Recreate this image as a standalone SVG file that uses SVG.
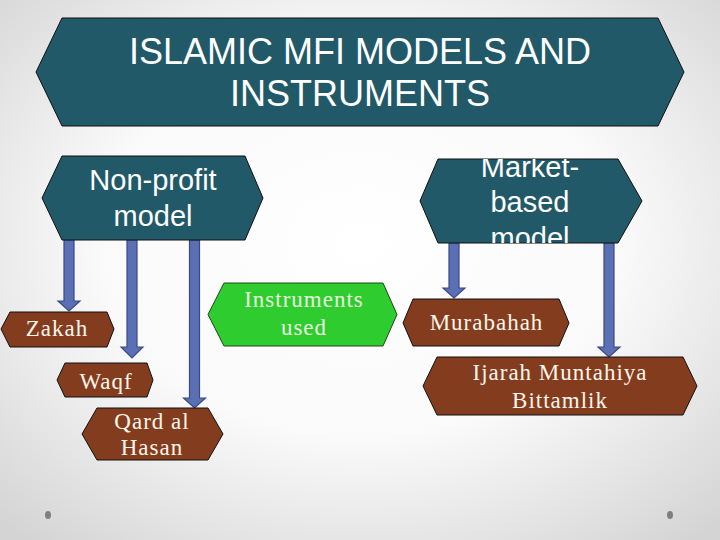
<svg xmlns="http://www.w3.org/2000/svg" width="720" height="540" viewBox="0 0 720 540">
<style>
.teal{fill:#215968;stroke:#111;stroke-width:1}
.brown{fill:#843c1f;stroke:#111;stroke-width:1}
.green{fill:#2fcc2f;stroke:#1a4a1a;stroke-width:1}
.arrow{fill:#5b6fb5;stroke:#3a4a85;stroke-width:1.2}
.sans{font-family:"Liberation Sans",Arial,sans-serif;fill:#fff;text-anchor:middle}
.serif{font-family:"Liberation Serif","Times New Roman",serif;font-size:23px;letter-spacing:1px;fill:#fff6ea;text-anchor:middle}
.gtext{fill:#e6f7df}
</style>
<defs>
<radialGradient id="bg" cx="50%" cy="45%" r="72%">
<stop offset="0" stop-color="#ffffff"/>
<stop offset="0.5" stop-color="#fafafa"/>
<stop offset="1" stop-color="#d4d4d4"/>
</radialGradient>
<clipPath id="mclip"><polygon points="420,201 438,159 618,159 642,201 618,243 438,243"/></clipPath>
</defs>
<rect width="720" height="540" fill="url(#bg)"/>
<ellipse cx="48" cy="515" rx="3" ry="4" fill="#7f7f7f"/>
<ellipse cx="670" cy="515" rx="3" ry="4" fill="#7f7f7f"/>

<g id="connectors">
<path class="arrow" d="M64,240 H74 V301 H80 L69,311 L58,301 H64 Z"/>
<path class="arrow" d="M127,240 H137 V347 H143 L132,358 L121,347 H127 Z"/>
<path class="arrow" d="M189.5,240 H199.5 V398 H205.5 L194.5,408 L183.5,398 H189.5 Z"/>
<path class="arrow" d="M449,243 H459 V288 H465 L454,298 L443,288 H449 Z"/>
<path class="arrow" d="M604,243 H614 V347 H620 L609,357 L598,347 H604 Z"/>
</g>

<g id="title">
<polygon class="teal" points="36,72 62,18 658,18 684,72 658,126 62,126"/>
<text class="sans" x="360" y="64" font-size="36">ISLAMIC MFI MODELS AND</text>
<text class="sans" x="360" y="106" font-size="36">INSTRUMENTS</text>
</g>

<g id="nonprofit">
<polygon class="teal" points="42,198 62,156 245,156 263,198 245,240 62,240"/>
<text class="sans" x="153" y="190" font-size="29">Non-profit</text>
<text class="sans" x="153" y="226" font-size="29">model</text>
</g>

<g id="market">
<polygon class="teal" points="420,201 438,159 618,159 642,201 618,243 438,243"/>
<g clip-path="url(#mclip)">
<text class="sans" x="530" y="176.5" font-size="29">Market-</text>
<text class="sans" x="530" y="212" font-size="29">based</text>
<text class="sans" x="530" y="247.5" font-size="29">model</text>
</g>
</g>

<g id="instruments">
<polygon class="green" points="208,314.5 224,283 383,283 397,314.5 383,346 224,346"/>
<text class="serif gtext" x="304" y="307">Instruments</text>
<text class="serif gtext" x="304" y="335">used</text>
</g>

<g id="zakah">
<polygon class="brown" points="1,329 10,312 107,312 114,329 107,347 10,347"/>
<text class="serif" x="57" y="336">Zakah</text>
</g>

<g id="waqf">
<polygon class="brown" points="57,380 65,363 147,363 153,380 147,397 65,397"/>
<text class="serif" x="106" y="388.5">Waqf</text>
</g>

<g id="qard">
<polygon class="brown" points="82,434 97,408 208,408 223,434 208,460 97,460"/>
<text class="serif" x="152" y="428.5">Qard al</text>
<text class="serif" x="152" y="455">Hasan</text>
</g>

<g id="murabahah">
<polygon class="brown" points="403,323 413,299 559,299 569,323 559,346 413,346"/>
<text class="serif" x="486.5" y="329.5">Murabahah</text>
</g>

<g id="ijarah">
<polygon class="brown" points="423,386 437,357 683,357 697,386 683,415 437,415"/>
<text class="serif" x="560" y="380">Ijarah Muntahiya</text>
<text class="serif" x="560" y="408">Bittamlik</text>
</g>
</svg>
